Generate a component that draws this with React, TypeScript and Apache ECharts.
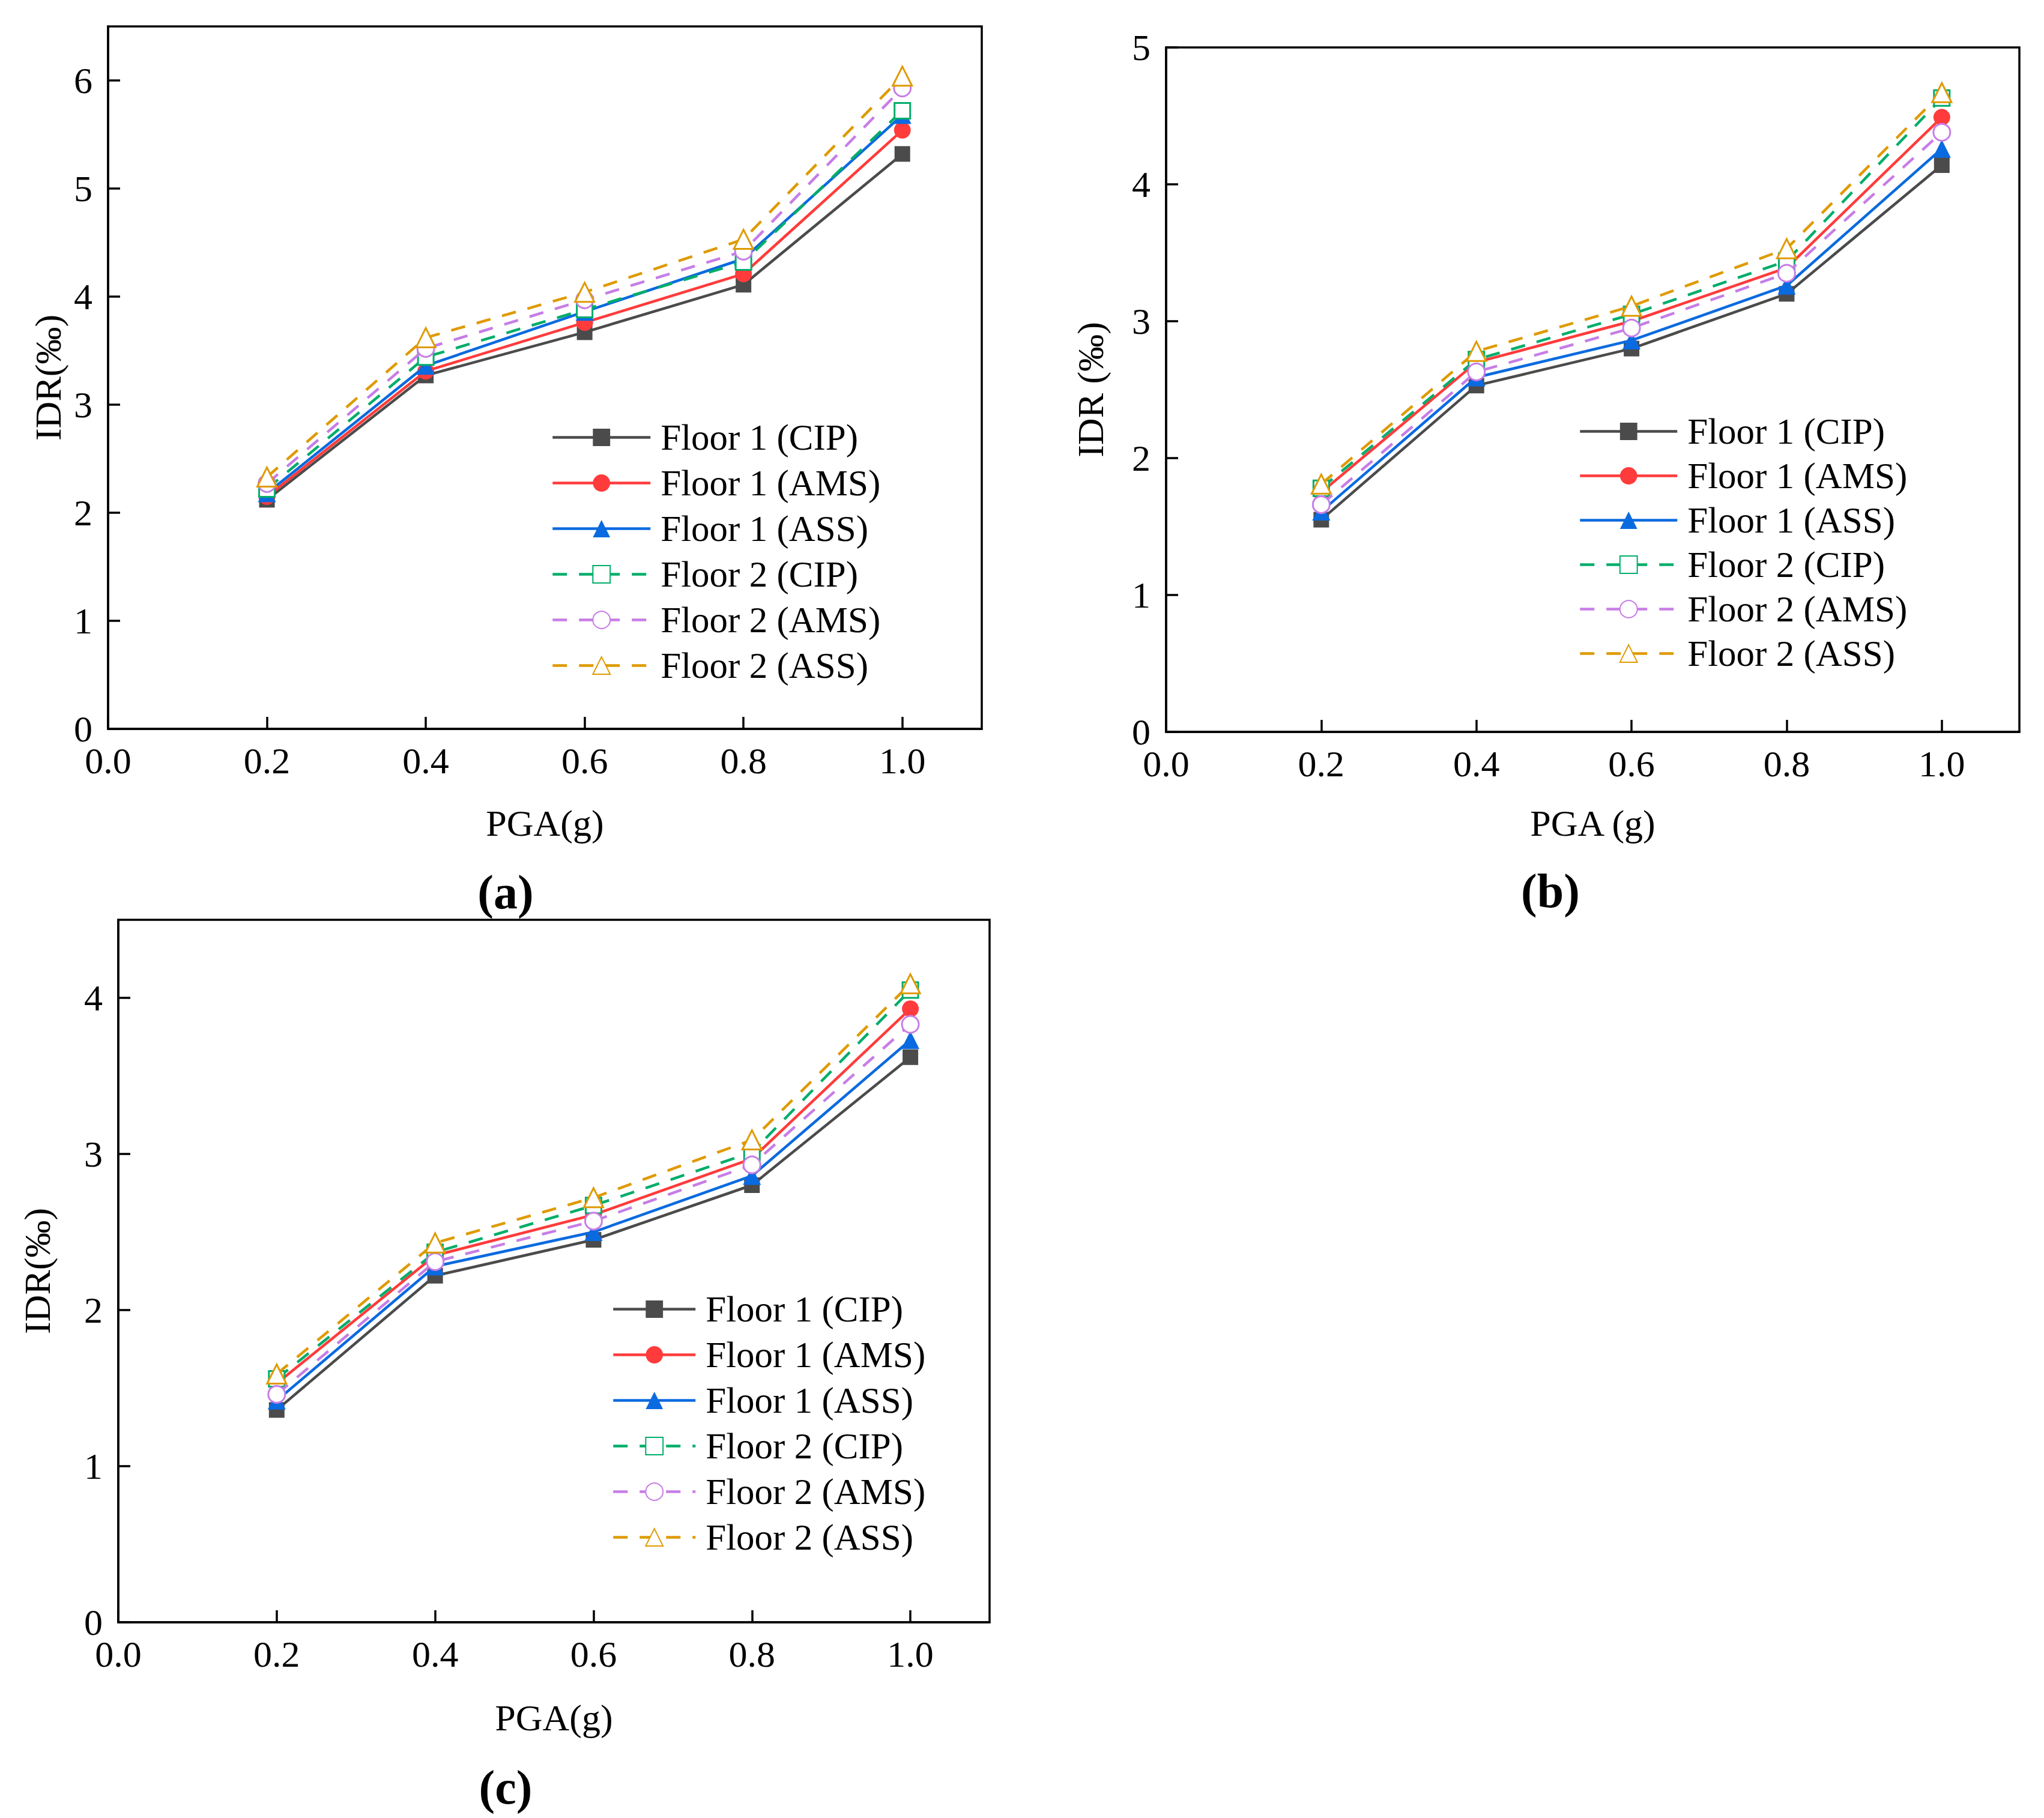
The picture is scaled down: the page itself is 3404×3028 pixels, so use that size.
import React, { useEffect, useRef } from 'react';
import * as echarts from 'echarts';

const PGA = [0.2, 0.4, 0.6, 0.8, 1.0];
const NAMES = ['Floor 1 (CIP)', 'Floor 1 (AMS)', 'Floor 1 (ASS)', 'Floor 2 (CIP)', 'Floor 2 (AMS)', 'Floor 2 (ASS)'];

// panel (a)
const A_F1_CIP = [2.12, 3.27, 3.67, 4.11, 5.32];
const A_F1_AMS = [2.15, 3.31, 3.76, 4.21, 5.54];
const A_F1_ASS = [2.18, 3.36, 3.86, 4.35, 5.68];
const A_F2_CIP = [2.22, 3.44, 3.88, 4.32, 5.72];
const A_F2_AMS = [2.27, 3.52, 3.97, 4.42, 5.93];
const A_F2_ASS = [2.33, 3.62, 4.04, 4.53, 6.04];

// panel (b)
const B_F1_CIP = [1.55, 2.53, 2.8, 3.2, 4.14];
const B_F1_AMS = [1.75, 2.7, 3.0, 3.39, 4.49];
const B_F1_ASS = [1.61, 2.59, 2.86, 3.26, 4.26];
const B_F2_CIP = [1.78, 2.72, 3.05, 3.44, 4.63];
const B_F2_AMS = [1.66, 2.63, 2.95, 3.35, 4.38];
const B_F2_ASS = [1.81, 2.78, 3.11, 3.53, 4.67];

// panel (c)
const C_F1_CIP = [1.36, 2.22, 2.45, 2.8, 3.62];
const C_F1_AMS = [1.53, 2.35, 2.61, 2.97, 3.93];
const C_F1_ASS = [1.42, 2.28, 2.5, 2.86, 3.73];
const C_F2_CIP = [1.56, 2.37, 2.67, 3.01, 4.05];
const C_F2_AMS = [1.46, 2.31, 2.57, 2.93, 3.83];
const C_F2_ASS = [1.59, 2.43, 2.72, 3.09, 4.09];

const PANELS = [
  { values: [A_F1_CIP, A_F1_AMS, A_F1_ASS, A_F2_CIP, A_F2_AMS, A_F2_ASS], yMax: 6.5, xName: 'PGA(g)', yName: 'IDR(‰)' },
  { values: [B_F1_CIP, B_F1_AMS, B_F1_ASS, B_F2_CIP, B_F2_AMS, B_F2_ASS], yMax: 5, xName: 'PGA (g)', yName: 'IDR (‰)' },
  { values: [C_F1_CIP, C_F1_AMS, C_F1_ASS, C_F2_CIP, C_F2_AMS, C_F2_ASS], yMax: 4.5, xName: 'PGA(g)', yName: 'IDR(‰)' },
];

const FONT = "'Liberation Serif', 'Times New Roman', serif";

const STYLES = [
  { color: '#4b4b4b', symbol: 'rect', size: 26, hollow: false, dashed: false },
  { color: '#ff3b3b', symbol: 'circle', size: 28, hollow: false, dashed: false },
  { color: '#0a6ae0', symbol: 'triangle', size: 30, hollow: false, dashed: false },
  { color: '#00ad6a', symbol: 'rect', size: 26, hollow: true, dashed: true },
  { color: '#c77de6', symbol: 'circle', size: 28, hollow: true, dashed: true },
  { color: '#df9a00', symbol: 'triangle', size: 32, hollow: true, dashed: true },
];

const GRIDS = [
  { left: 180, top: 44, width: 1455, height: 1170 },
  { left: 1942, top: 79, width: 1421, height: 1140 },
  { left: 197, top: 1532, width: 1451, height: 1170 },
];

const LAYOUT = [
  { legendLeft: 913, legendTop: 693, itemWidth: 163, itemGap: 15, xGap: 126, yGap: 69, label: '(a)', lx: 842, ly: 1486 },
  { legendLeft: 2624, legendTop: 683, itemWidth: 162, itemGap: 13, xGap: 121, yGap: 95, label: '(b)', lx: 2582, ly: 1484 },
  { legendLeft: 1014, legendTop: 2145, itemWidth: 137, itemGap: 15, xGap: 128, yGap: 104, label: '(c)', lx: 842, ly: 2977 },
];

const App: React.FC = () => {
  const ref = useRef<HTMLDivElement>(null);

  useEffect(() => {
    if (!ref.current) return;
    const chart = echarts.init(ref.current, undefined, { renderer: 'svg' });

    const axisLine = { show: true, lineStyle: { color: '#000', width: 3.5 } };
    const axisTick = { show: true, inside: true, length: 20, lineStyle: { color: '#000', width: 3.5 } };

    const xAxis = PANELS.map((p, i) => ({
      type: 'value',
      gridIndex: i,
      min: 0,
      max: 1.1,
      interval: 0.2,
      name: p.xName,
      nameLocation: 'middle',
      nameGap: LAYOUT[i].xGap,
      nameTextStyle: { fontFamily: FONT, fontSize: 62, color: '#000' },
      axisLine,
      axisTick,
      splitLine: { show: false },
      axisLabel: {
        fontFamily: FONT,
        fontSize: 62,
        color: '#000',
        margin: 22,
        showMaxLabel: false,
        formatter: (v: number) => v.toFixed(1),
      },
    }));

    const yAxis = PANELS.map((p, i) => ({
      type: 'value',
      gridIndex: i,
      min: 0,
      max: p.yMax,
      interval: 1,
      name: p.yName,
      nameLocation: 'middle',
      nameRotate: 90,
      nameGap: LAYOUT[i].yGap,
      nameTextStyle: { fontFamily: FONT, fontSize: 62, color: '#000' },
      axisLine,
      axisTick,
      splitLine: { show: false },
      axisLabel: {
        fontFamily: FONT,
        fontSize: 62,
        color: '#000',
        margin: 26,
        showMaxLabel: p.yMax % 1 === 0,
      },
    }));

    const series: any[] = [];
    PANELS.forEach((p, i) => {
      p.values.forEach((vals, k) => {
        const s = STYLES[k];
        series.push({
          type: 'line',
          name: NAMES[k],
          xAxisIndex: i,
          yAxisIndex: i,
          data: PGA.map((x, j) => [x, vals[j]]),
          symbol: s.symbol,
          symbolSize: s.size,
          lineStyle: { color: s.color, width: 4.5, type: s.dashed ? [24, 20] : 'solid' },
          itemStyle: s.hollow
            ? { color: '#fff', borderColor: s.color, borderWidth: 3 }
            : { color: s.color, borderWidth: 0 },
          z: 2 + k,
        });
      });
    });

    const legend = LAYOUT.map((l) => ({
      orient: 'vertical',
      left: l.legendLeft,
      top: l.legendTop,
      itemWidth: l.itemWidth,
      itemHeight: 36,
      itemGap: l.itemGap,
      data: NAMES,
      selectedMode: false,
      lineStyle: { width: 4.5 },
      textStyle: { fontFamily: FONT, fontSize: 61, lineHeight: 60, color: '#000', padding: [0, 0, 0, 12] },
    }));

    chart.setOption({
      animation: false,
      backgroundColor: '#fff',
      grid: GRIDS.map((g) => ({
        ...g,
        show: true,
        borderColor: '#000',
        borderWidth: 3.5,
        backgroundColor: 'transparent',
        containLabel: false,
      })),
      xAxis,
      yAxis,
      legend,
      series,
      graphic: LAYOUT.map((l) => ({
        type: 'text',
        x: l.lx,
        y: l.ly,
        style: {
          text: l.label,
          font: `bold 80px ${FONT}`,
          fill: '#000',
          textAlign: 'center',
          textVerticalAlign: 'middle',
        },
      })),
    });

    return () => {
      chart.dispose();
    };
  }, []);

  return <div ref={ref} style={{ position: 'absolute', left: 0, top: 0, width: 3404, height: 3028 }} />;
};

export default App;
